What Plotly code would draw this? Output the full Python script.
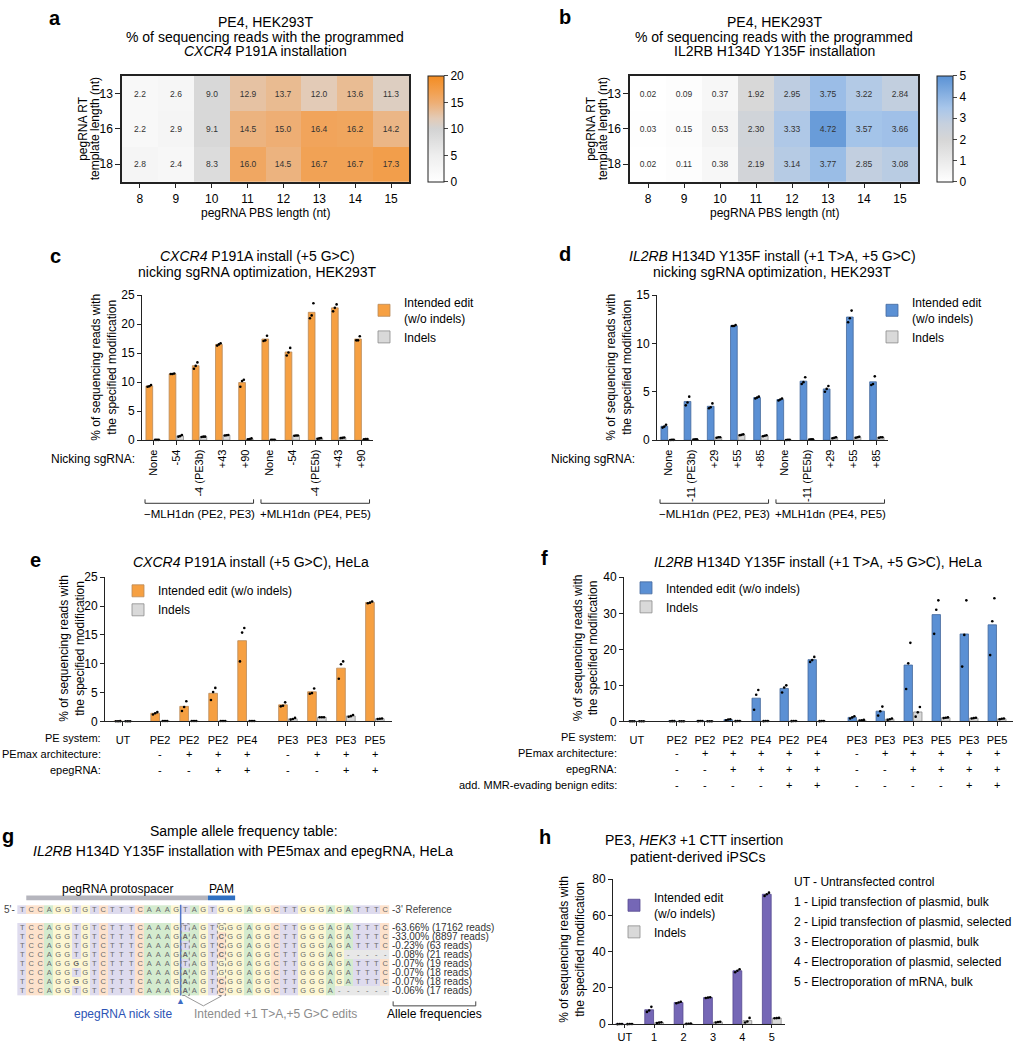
import numpy as np
import plotly.graph_objects as go

W, H = 1013, 1050
FONT = "Liberation Sans, Arial, Helvetica, sans-serif"

# ======================= DATA =======================
# --- a / b heatmaps ---
pbs_length = [8, 9, 10, 11, 12, 13, 14, 15]
rt_length = ["13", "16", "18"]
cxcr4_pe4 = [[2.2, 2.6, 9.0, 12.9, 13.7, 12.0, 13.6, 11.3],
             [2.2, 2.9, 9.1, 14.5, 15.0, 16.4, 16.2, 14.2],
             [2.8, 2.4, 8.3, 16.0, 14.5, 16.7, 16.7, 17.3]]
il2rb_pe4 = [[0.02, 0.09, 0.37, 1.92, 2.95, 3.75, 3.22, 2.84],
             [0.03, 0.15, 0.53, 2.30, 3.33, 4.72, 3.57, 3.66],
             [0.02, 0.11, 0.38, 2.19, 3.14, 3.77, 2.85, 3.08]]

# --- c ---
c_nick = ["None", "-54", "-4 (PE3b)", "+43", "+90", "None", "-54", "-4 (PE5b)", "+43", "+90"]
c_edit = [[9.2, 9.3, 9.5], [11.4, 11.4, 11.5], [12.3, 12.8, 13.4], [16.3, 16.5, 16.7], [9.2, 10.2, 10.4],
          [17.1, 17.2, 18.0], [14.6, 15.1, 15.9], [21.0, 21.5, 23.6], [22.2, 22.8, 23.4], [17.2, 17.2, 17.9]]
c_indel = [[0.05, 0.05, 0.05], [0.6, 0.7, 0.9], [0.55, 0.6, 0.6], [0.8, 0.85, 0.9], [0.15, 0.2, 0.3],
           [0.05, 0.05, 0.05], [0.75, 0.8, 0.8], [0.25, 0.3, 0.35], [0.35, 0.4, 0.45], [0.15, 0.2, 0.2]]

# --- d ---
d_nick = ["None", "-11 (PE3b)", "+29", "+55", "+85", "None", "-11 (PE5b)", "+29", "+55", "+85"]
d_edit = [[1.3, 1.4, 1.6], [3.6, 3.9, 4.5], [3.3, 3.4, 3.8], [11.8, 11.8, 11.9], [4.3, 4.4, 4.5],
          [4.1, 4.2, 4.3], [5.8, 6.0, 6.5], [5.0, 5.3, 5.6], [12.2, 12.6, 13.4], [5.7, 5.8, 6.6]]
d_indel = [[0.02, 0.03, 0.03], [0.05, 0.08, 0.1], [0.25, 0.3, 0.3], [0.5, 0.55, 0.6], [0.4, 0.45, 0.5],
           [0.02, 0.03, 0.03], [0.05, 0.08, 0.1], [0.2, 0.25, 0.3], [0.25, 0.3, 0.35], [0.25, 0.3, 0.3]]

mlh1_groups = ["\u2212MLH1dn (PE2, PE3)", "+MLH1dn (PE4, PE5)"]

# --- e ---
e_system = ["UT", "PE2", "PE2", "PE2", "PE4", "PE3", "PE3", "PE3", "PE5"]
e_pemax = ["", "-", "+", "+", "+", "-", "+", "+", "+"]
e_epeg = ["", "-", "-", "+", "+", "-", "-", "+", "+"]
e_block = [0, 1, 1, 1, 1, 2, 2, 2, 2]
e_edit = [[0.02, 0.02, 0.03], [1.2, 1.4, 1.6], [1.8, 2.5, 3.5], [3.7, 5.1, 5.8], [10.4, 15.4, 16.2],
          [2.6, 2.7, 3.3], [4.8, 4.9, 5.7], [7.4, 9.9, 10.4], [20.5, 20.6, 20.8]]
e_indel = [[0.02, 0.02, 0.02], [0.05, 0.05, 0.05], [0.05, 0.05, 0.05], [0.05, 0.05, 0.05], [0.05, 0.05, 0.05],
           [0.3, 0.4, 0.6], [0.7, 0.7, 0.7], [0.8, 0.9, 1.1], [0.4, 0.45, 0.5]]
e_rows = ["PEmax architecture:", "epegRNA:"]

# --- f ---
f_system = ["UT", "PE2", "PE2", "PE2", "PE4", "PE2", "PE4", "PE3", "PE3", "PE3", "PE5", "PE3", "PE5"]
f_pemax = ["", "-", "+", "+", "+", "+", "+", "-", "+", "+", "+", "+", "+"]
f_epeg = ["", "-", "-", "+", "+", "+", "+", "-", "-", "+", "+", "+", "+"]
f_mmr = ["", "-", "-", "-", "-", "+", "+", "-", "-", "-", "-", "+", "+"]
f_block = [0, 1, 1, 1, 1, 1, 1, 2, 2, 2, 2, 2, 2]
f_edit = [[0.02, 0.02, 0.02], [0.03, 0.05, 0.06], [0.05, 0.1, 0.1], [0.3, 0.5, 0.6], [3.2, 7.4, 8.7],
          [8.0, 9.4, 10.0], [16.5, 17.0, 17.9], [0.8, 1.1, 1.4], [1.6, 2.8, 4.1], [9.0, 16.1, 21.8],
          [24.3, 31.0, 33.6], [15.2, 24.0, 33.6], [18.4, 27.8, 34.2]]
f_indel = [[0.02, 0.02, 0.02], [0.02, 0.02, 0.02], [0.02, 0.02, 0.02], [0.05, 0.1, 0.1], [0.05, 0.1, 0.1],
           [0.05, 0.1, 0.1], [0.05, 0.1, 0.1], [0.2, 0.3, 0.4], [0.4, 0.6, 0.8], [1.3, 2.5, 4.0],
           [0.9, 1.0, 1.1], [0.8, 0.9, 1.0], [0.6, 0.7, 0.8]]
f_rows = ["PEmax architecture:", "epegRNA:", "add. MMR-evading benign edits:"]

# --- g ---
ref_seq = "TCCAGGTGTCTTTCAAAGTAGTGGGAGGCTTGGGAGATTTC"
allele_seqs = ["TCCAGGTGTCTTTCAAAGTAGTGGGAGGCTTGGGAGATTTC",
               "TCCAGGTGTCTTTCAAAGAAGTCGGAGGCTTGGGAGATTTC",
               "TCCAGGTGTCTTTCAAAGTAGTCGGAGGCTTGGGAGATTTC",
               "TCCAGGTGTCTTTCAAAGAAGTCGGAGGCTTGGGAG-----",
               "TCCAGGGGTCTTTCAAAGTAGTGGGAGGCTTGGGAGATTTC",
               "TCCAGGTGTCTTTCAAAGAAGTGGGAGGCTTGGGAGATTTC",
               "TCCAGGGGTCTTTCAAAGAAGTCGGAGGCTTGGGAGATTTC",
               "TCCAGGTGTCTTTCAAAGAAGTCGGAGGCTTGGGA------"]
allele_pct = [63.66, 33.00, 0.23, 0.08, 0.07, 0.07, 0.07, 0.06]
allele_reads = [17162, 8897, 63, 21, 19, 18, 18, 17]
nick_after = 18          # nick between base 18 and 19
edit_cols = [19, 23]     # +1 and +5 positions (1-based)
protospacer = (2, 21)    # 1-based inclusive
pam = (22, 24)

# --- h ---
h_labels = ["UT", "1", "2", "3", "4", "5"]
h_edit = [[0.05, 0.1, 0.1], [6.8, 7.6, 9.6], [11.6, 12.0, 12.4], [14.5, 14.7, 14.9], [28.7, 29.5, 30.3], [70.8, 71.7, 72.6]]
h_indel = [[0.05, 0.1, 0.1], [0.7, 0.9, 1.1], [0.2, 0.3, 0.4], [1.0, 1.2, 1.4], [1.0, 1.5, 3.5], [3.3, 3.4, 3.5]]
h_key = ["UT - Untransfected control",
         "1 - Lipid transfection of plasmid, bulk",
         "2 - Lipid transfection of plasmid, selected",
         "3 - Electroporation of plasmid, bulk",
         "4 - Electroporation of plasmid, selected",
         "5 - Electroporation of mRNA, bulk"]

# ======================= STYLE =======================
ORANGE, ORANGE_E = "#f6a042", "#b98a5a"
BLUE, BLUE_E = "#5b90d4", "#44689c"
PURPLE, PURPLE_E = "#7567b6", "#55498f"
GRAY, GRAY_E = "#d9d9d9", "#8c8c8c"

ORANGE_SCALE = [[0, "#ffffff"], [0.25, "#eeeeee"], [0.5, "#d3d3d3"], [0.6, "#e3cbb7"],
                [0.75, "#eeae74"], [0.85, "#f2a050"], [1, "#f38c22"]]
BLUE_SCALE = [[0, "#ffffff"], [0.4, "#d6d6d6"], [0.55, "#c6d0de"], [0.7, "#a8c6ea"], [1, "#5a92d5"]]

fig = go.Figure()
layout = dict(width=W, height=H, margin=dict(l=0, r=0, t=0, b=0), autosize=False,
              plot_bgcolor="white", paper_bgcolor="white", barmode="overlay",
              font=dict(family=FONT, size=12, color="black"), showlegend=True)
annotations, shapes = [], []


def px_x(px):
    return px / W


def px_y(py):
    return 1 - py / H


def ann(text, px, py, size=12, xanchor="center", yanchor="middle", color="black", **kw):
    annotations.append(dict(text=text, x=px_x(px), y=px_y(py), xref="paper", yref="paper",
                            xanchor=xanchor, yanchor=yanchor, showarrow=False,
                            font=dict(size=size, color=color, family=FONT), **kw))


def dom_x(a, b):
    return [a / W, b / W]


def dom_y(top, bottom):
    return [1 - bottom / H, 1 - top / H]


# ======================= a / b heatmaps =======================
def heat_panel(n, z, scale, zmax, fmt, xdom, cbx, cbticks):
    sfx = "" if n == 1 else str(n)
    fig.add_trace(go.Heatmap(x=pbs_length, y=rt_length, z=z, zmin=0, zmax=zmax, colorscale=scale,
                             texttemplate=fmt, textfont=dict(size=8.5, color="#333", family=FONT),
                             xaxis="x" + sfx, yaxis="y" + sfx, hoverinfo="skip",
                             colorbar=dict(x=px_x(cbx), xanchor="left", y=px_y(123.5), yanchor="middle",
                                           len=107 / H, lenmode="fraction", thickness=16, thicknessmode="pixels",
                                           outlinewidth=1, outlinecolor="#222", tickvals=cbticks,
                                           ticks="outside", ticklen=4, tickfont=dict(size=12),
                                           xpad=0, ypad=0)))
    axl = dict(showline=True, mirror=True, linecolor="#222", linewidth=1.5, showgrid=False,
               zeroline=False, ticks="outside", ticklen=5, tickcolor="#222", tickfont=dict(size=12))
    layout["xaxis" + sfx] = dict(domain=xdom, range=[7.5, 15.5], tickvals=pbs_length,
                                 anchor="y" + sfx, **axl)
    layout["yaxis" + sfx] = dict(domain=dom_y(70, 177), type="category", autorange="reversed",
                                 anchor="x" + sfx, **axl)


heat_panel(1, cxcr4_pe4, ORANGE_SCALE, 20, "%{z:.1f}", dom_x(122, 409), 428, [0, 5, 10, 15, 20])
heat_panel(2, il2rb_pe4, BLUE_SCALE, 5, "%{z:.2f}", dom_x(630, 918), 937, [0, 1, 2, 3, 4, 5])

for cx, gene in ((265, "<i>CXCR4</i> P191A installation"), (774, "IL2RB H134D Y135F installation")):
    ann("PE4, HEK293T", cx, 15, 14)
    ann("% of sequencing reads with the programmed", cx, 30, 14)
    ann(gene, cx, 45, 14)
    ann("pegRNA PBS length (nt)", cx, 209, 12)
for cx in (0, 508):
    ann("pegRNA RT", cx + 83, 123.5, 12, textangle=-90)
    ann("template length (nt)", cx + 94.5, 123.5, 12, textangle=-90)


# ======================= bar panels =======================
def positions(blocks, gaps):
    pos, extra = [], 0.0
    for i, b in enumerate(blocks):
        if i > 0 and b != blocks[i - 1]:
            extra += gaps[b - 1]
        pos.append(i + extra)
    return np.array(pos, float)


def add_bars(n, xpos, edit_reps, indel_reps, color, edge, edit_name, legend_id, off=0.165, bw=0.29):
    xa, ya = "x%d" % n, "y%d" % n
    edit_mean = [float(np.mean(r)) for r in edit_reps]
    indel_mean = [float(np.mean(r)) for r in indel_reps]
    fig.add_trace(go.Bar(x=xpos - off, y=edit_mean, width=bw, name=edit_name, xaxis=xa, yaxis=ya,
                         marker=dict(color=color, line=dict(color=edge, width=0.8)),
                         legend=legend_id, hoverinfo="skip"))
    fig.add_trace(go.Bar(x=xpos + off, y=indel_mean, width=bw, name="Indels", xaxis=xa, yaxis=ya,
                         marker=dict(color=GRAY, line=dict(color=GRAY_E, width=0.8)),
                         legend=legend_id, hoverinfo="skip"))
    jit = [-0.075, 0.0, 0.075]
    dx, dy = [], []
    for reps_list, sgn in ((edit_reps, -1), (indel_reps, 1)):
        for xc, reps in zip(xpos, reps_list):
            for j, v in zip(jit, reps):
                dx.append(xc + sgn * off + j)
                dy.append(v)
    fig.add_trace(go.Scatter(x=dx, y=dy, mode="markers", marker=dict(size=2.6, color="black"),
                             showlegend=False, xaxis=xa, yaxis=ya, hoverinfo="skip", cliponaxis=False))


def bar_axes(n, xdom, ydom, xrange, yrange, dtick, tickvals, ticktext, tickangle=0, tsize=12, ticklen=4):
    common = dict(showline=True, linecolor="#222", linewidth=1, showgrid=False, zeroline=False,
                  ticks="outside", tickcolor="#222")
    layout["xaxis%d" % n] = dict(domain=xdom, range=xrange, anchor="y%d" % n, tickvals=list(tickvals),
                                 ticktext=ticktext, tickangle=tickangle, tickfont=dict(size=tsize),
                                 ticklen=ticklen, **common)
    layout["yaxis%d" % n] = dict(domain=ydom, range=yrange, anchor="x%d" % n, tick0=0, dtick=dtick,
                                 tickfont=dict(size=12), ticklen=4, **common)


def legend_cfg(px, py):
    return dict(x=px_x(px), y=px_y(py), xanchor="left", yanchor="top", bgcolor="rgba(0,0,0,0)",
                borderwidth=0, font=dict(size=12, family=FONT), tracegroupgap=0, itemclick=False,
                itemdoubleclick=False)


YTITLE = "% of sequencing reads with<br>the specified modification"

# ---- c ----
xc = np.arange(len(c_nick), dtype=float)
add_bars(3, xc, c_edit, c_indel, ORANGE, ORANGE_E, "Intended edit<br>(w/o indels)", "legend")
bar_axes(3, dom_x(142, 373), dom_y(292, 439), [-0.48, 9.48], [0, 25], 5, xc, c_nick, -90, 11)
layout["legend"] = legend_cfg(364, 285)
ann("<i>CXCR4</i> P191A install (+5 G&gt;C)", 257, 252, 14)
ann("nicking sgRNA optimization, HEK293T", 257, 269, 14)
ann(YTITLE, 104.5, 365, 12, textangle=-90)
ann("Nicking sgRNA:", 137, 458, 12, xanchor="right")

# ---- d ----
xd = np.arange(len(d_nick), dtype=float)
add_bars(4, xd, d_edit, d_indel, BLUE, BLUE_E, "Intended edit<br>(w/o indels)", "legend2")
bar_axes(4, dom_x(657, 888), dom_y(292, 439), [-0.48, 9.48], [0, 15], 5, xd, d_nick, -90, 11)
layout["legend2"] = legend_cfg(872, 285)
ann("<i>IL2RB</i> H134D Y135F install (+1 T&gt;A, +5 G&gt;C)", 772, 252, 14)
ann("nicking sgRNA optimization, HEK293T", 772, 269, 14)
ann(YTITLE, 619.5, 365, 12, textangle=-90)
ann("Nicking sgRNA:", 637, 458, 12, xanchor="right")

# brackets under c and d
for n, xs in ((3, xc), (4, xd)):
    for k, (lo, hi) in enumerate(((0, 4), (5, 9))):
        x0, x1 = xs[lo] - 0.35, xs[hi] + 0.33
        shapes.append(dict(type="path", xref="x%d" % n, yref="paper",
                           path="M %f,%f L %f,%f L %f,%f L %f,%f" % (x0, px_y(499), x0, px_y(503),
                                                                     x1, px_y(503), x1, px_y(499)),
                           line=dict(color="#333", width=1)))
        annotations.append(dict(text=mlh1_groups[k], x=(x0 + x1) / 2, y=px_y(514), xref="x%d" % n,
                                yref="paper", yanchor="middle", showarrow=False,
                                font=dict(size=11.5, family=FONT)))


def row_marks(n, xpos, rows, row_names, label_right, y0, dy=16.2):
    ann("PE system:", label_right, y0, 11, xanchor="right")
    for r, (vals, name) in enumerate(zip(rows, row_names)):
        py = y0 + dy * (r + 1)
        ann(name, label_right, py, 11, xanchor="right")
        for xv, v in zip(xpos, vals):
            if v:
                annotations.append(dict(text=v, x=xv, y=px_y(py), xref="x%d" % n, yref="paper",
                                        xanchor="center", yanchor="middle", showarrow=False,
                                        font=dict(size=11, family=FONT)))


# ---- e ----
xe = positions(e_block, [0.28, 0.41])
add_bars(5, xe, e_edit, e_indel, ORANGE, ORANGE_E, "Intended edit (w/o indels)", "legend3", off=0.17, bw=0.3)
bar_axes(5, dom_x(105, 392), dom_y(578, 724), [-0.62, 9.28], [0, 25], 5, xe, e_system, 0, 11, 4)
layout["xaxis5"]["ticklabelstandoff"] = 4
layout["legend3"] = legend_cfg(118, 577)
ann("<i>CXCR4</i> P191A install (+5 G&gt;C), HeLa", 251, 562, 14)
ann(YTITLE, 72.5, 650, 12, textangle=-90)
row_marks(5, xe, [e_pemax, e_epeg], e_rows, 103, 741)

# ---- f ----
xf = positions(f_block, [0.43, 0.43])
add_bars(6, xf, f_edit, f_indel, BLUE, BLUE_E, "Intended edit (w/o indels)", "legend4", off=0.17, bw=0.3)
bar_axes(6, [624 / W, 1.0], dom_y(578, 724), [-0.46, 13.43], [0, 40], 10, xf, f_system, 0, 11, 4)
layout["xaxis6"]["ticklabelstandoff"] = 4
layout["legend4"] = legend_cfg(626, 574)
ann("<i>IL2RB</i> H134D Y135F install (+1 T&gt;A, +5 G&gt;C), HeLa", 818, 562, 14)
ann(YTITLE, 586, 650, 12, textangle=-90)
row_marks(6, xf, [f_pemax, f_epeg, f_mmr], f_rows, 619, 740)

# ---- h ----
xh = np.arange(len(h_labels), dtype=float)
add_bars(8, xh, h_edit, h_indel, PURPLE, PURPLE_E, "Intended edit<br>(w/o indels)", "legend5", off=0.17, bw=0.3)
bar_axes(8, dom_x(613, 785), dom_y(884, 1031), [-0.4, 5.45], [0, 80], 20, xh, h_labels, 0, 11, 3)
layout["legend5"] = legend_cfg(614, 888)
ann("PE3, <i>HEK3</i> +1 CTT insertion", 694, 844, 14)
ann("patient-derived iPSCs", 697, 861, 14)
ann(YTITLE, 572.5, 955, 12, textangle=-90)
for i, t in enumerate(h_key):
    ann(t, 792, 887 + 20.2 * i, 12, xanchor="left")

# ======================= g : allele table =======================
base_order = ["T", "C", "A", "G", "-"]
base_colors = ["#dedbee", "#fde2cc", "#d4ebcf", "#fcf6d2", "#e8e8e8"]
g_scale = []
for i, c in enumerate(base_colors):
    g_scale += [[i / 5, c], [(i + 1) / 5, c]]

rows_seq = [ref_seq, None] + allele_seqs
z_g, t_g = [], []
for s in rows_seq:
    if s is None:
        z_g.append([None] * len(ref_seq))
        t_g.append([""] * len(ref_seq))
        continue
    z_g.append([base_order.index(b) for b in s])
    t_g.append(["<b>%s</b>" % b if (b != r and b != "-") else b for b, r in zip(s, ref_seq)])

fig.add_trace(go.Heatmap(x=list(range(len(ref_seq))), y=list(range(len(rows_seq))), z=z_g, text=t_g,
                         texttemplate="%{text}", textfont=dict(size=7.5, color="#6a6a6a", family=FONT),
                         colorscale=g_scale, zmin=-0.5, zmax=4.5, showscale=False, xgap=0, ygap=0,
                         xaxis="x7", yaxis="y7", hoverinfo="skip"))
layout["xaxis7"] = dict(domain=dom_x(17.2, 480.3), range=[-0.5, 50.5], visible=False, anchor="y7")
layout["yaxis7"] = dict(domain=dom_y(892.25, 1028.75), range=[12.5, -2.5], visible=False, anchor="x7")

ncol = len(ref_seq)
last_row = len(rows_seq) - 1
nick_x = nick_after - 0.5
G = dict(xref="x7", yref="y7")
shapes.append(dict(type="rect", x0=protospacer[0] - 1.5, x1=protospacer[1] - 0.5, y0=-1.58, y1=-1.05,
                   fillcolor="#b5b5bd", line=dict(width=0), **G))
shapes.append(dict(type="rect", x0=pam[0] - 1.5, x1=pam[1] - 0.5, y0=-1.58, y1=-1.05,
                   fillcolor="#2f70c2", line=dict(width=0), **G))
shapes.append(dict(type="line", x0=nick_x, x1=nick_x, y0=-0.55, y1=last_row + 0.55,
                   line=dict(color="#5377c9", width=1.5), **G))
for col in edit_cols:
    shapes.append(dict(type="rect", x0=col - 1.45, x1=col - 0.55, y0=1.55, y1=last_row + 0.55,
                       line=dict(color="#8a8a8a", width=1, dash="dot"), **G))
mid = (edit_cols[0] + edit_cols[1]) / 2 - 1
for col in edit_cols:
    shapes.append(dict(type="line", x0=col - 1, x1=mid, y0=last_row + 0.6, y1=last_row + 1.7,
                       line=dict(color="#9a9a9a", width=1), **G))
shapes.append(dict(type="path", path="M 40.9,10.2 L 40.9,10.7 L 50,10.7 L 50,10.2",
                   line=dict(color="#444", width=1), **G))


def gann(text, x, y, size=10, xanchor="center", color="black"):
    annotations.append(dict(text=text, x=x, y=y, xanchor=xanchor, yanchor="middle", showarrow=False,
                            font=dict(size=size, color=color, family=FONT), **G))


gann("pegRNA protospacer", (protospacer[0] + protospacer[1]) / 2 - 1, -2.35, 12)
gann("PAM", (pam[0] + pam[1]) / 2 - 1, -2.35, 12)
gann("5'-", -0.5, 0, 10, "right", "#444")
gann("-3' Reference", ncol - 0.5, 0, 10, "left", "#444")
for i, (p, r) in enumerate(zip(allele_pct, allele_reads)):
    gann("-%.2f%% (%d reads)" % (p, r), ncol - 0.5, i + 2, 10, "left", "#333")
gann("\u25B2", nick_x, 10.2, 9, "center", "#3f6cc4")
gann("epegRNA nick site", 11.2, 11.6, 12, "center", "#2c54b5")
gann("Intended +1 T&gt;A,+5 G&gt;C edits", 28, 11.6, 12, "center", "#8c8c8c")
gann("Allele frequencies", 45.5, 11.6, 12, "center", "black")
ann("Sample allele frequency table:", 244, 835, 14)
ann("<i>IL2RB</i> H134D Y135F installation with PE5max and epegRNA, HeLa", 243, 855, 14)

# ======================= panel letters =======================
for letter, px, py in (("a", 55, 11), ("b", 565, 10), ("c", 55, 252), ("d", 565, 250),
                       ("e", 35, 560), ("f", 544, 558), ("g", 8, 840), ("h", 545, 841)):
    ann("<b>%s</b>" % letter, px, py, 20)

layout["annotations"] = annotations
layout["shapes"] = shapes
fig.update_layout(**layout)
fig.write_html("out.html", config={"displayModeBar": False},
               post_script="document.body.style.margin='0px';")
